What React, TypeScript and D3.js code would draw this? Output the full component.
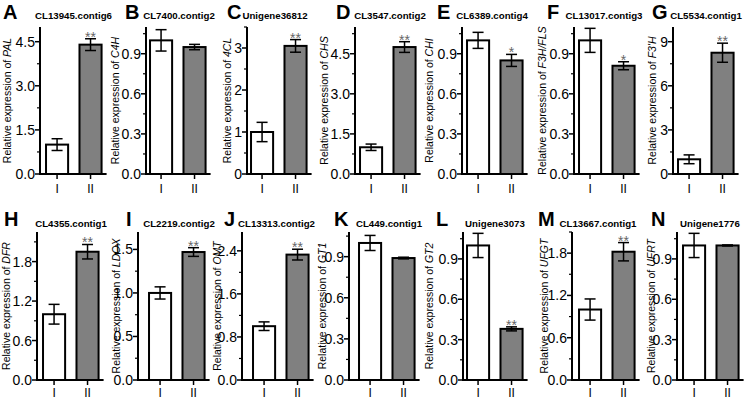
import React from "react";
import * as d3 from "d3";

// ---------- data ----------
const letters = ["A", "B", "C", "D", "E", "F", "G", "H", "I", "J", "K", "L", "M", "N"];
const titles = [
  "CL13945.contig6", "CL7400.contig2", "Unigene36812", "CL3547.contig2", "CL6389.contig4",
  "CL13017.contig3", "CL5534.contig1", "CL4355.contig1", "CL2219.contig2", "CL13313.contig2",
  "CL449.contig1", "Unigene3073", "CL13667.contig1", "Unigene1776",
];
const genes = ["PAL", "C4H", "4CL", "CHS", "CHI", "F3H/FLS", "F3'H", "DFR", "LDOX", "OMT", "GT1", "GT2", "UFGT", "UFRT"];
const groups = ["I", "II"];
const meanI = [1.0, 1.0, 1.0, 1.0, 1.0, 1.0, 1.0, 1.0, 1.0, 1.0, 1.0, 1.0, 1.0, 1.0];
const meanII = [4.4, 0.95, 3.05, 4.75, 0.85, 0.81, 8.25, 1.95, 1.47, 2.33, 0.89, 0.38, 1.82, 1.0];
const errI = [0.2, 0.08, 0.23, 0.12, 0.06, 0.09, 0.3, 0.15, 0.07, 0.08, 0.055, 0.09, 0.15, 0.09];
const errII = [0.2, 0.02, 0.15, 0.2, 0.045, 0.03, 0.65, 0.11, 0.05, 0.1, 0.006, 0.015, 0.13, 0.004];
const sigII = ["**", "", "**", "**", "*", "*", "**", "**", "**", "**", "", "**", "**", ""];
const yMax = [5, 1.1, 3.5, 5.5, 1.1, 1.1, 10, 2.25, 1.7, 2.75, 1.08, 1.1, 2.1, 1.1];
const tickStep = [1.5, 0.3, 1, 1.5, 0.3, 0.3, 3, 0.6, 0.5, 0.8, 0.3, 0.3, 0.6, 0.3];
const tickDecimals = [1, 1, 0, 1, 1, 1, 0, 1, 1, 1, 1, 1, 1, 1];

// ---------- layout ----------
const axisX = [40, 146, 247, 355, 462, 574, 673, 37, 138, 242, 349, 463, 572, 677];
const barStart = [46, 150, 251, 360, 467, 579, 678, 43, 149, 253, 359, 467, 579, 683];
const labelX = [7, 115, 227, 324, 429, 542, 652, 6, 116, 217, 322, 429, 544, 651];
const letterX = [3, 125, 227, 336, 437, 547, 652, 4, 126, 224, 334, 436, 538, 651];
const titleX = [73.5, 179, 275, 390, 492, 604, 706, 71, 179, 276.5, 389, 495, 598, 710];
const rowBase = [174, 380];
const rowTop = [27, 232];
const rowTitleY = [19, 227];
const rowLetterY = [19, 226];
const rowXLabelDy = [19, 17];

const FONT = "Arial, 'Liberation Sans', Helvetica, sans-serif";

function Panel({ i }: { i: number }) {
  const row = i < 7 ? 0 : 1;
  const base = rowBase[row];
  const top = rowTop[row];
  const ax = axisX[i];
  const x = d3
    .scaleBand<string>()
    .domain(groups)
    .range([barStart[i] - 5, barStart[i] - 5 + 65.6])
    .paddingInner(0.34)
    .paddingOuter(0.15);
  const y = d3.scaleLinear().domain([0, yMax[i]]).range([base, top]);
  const majors = d3.range(0, yMax[i] + 1e-9, tickStep[i]);
  const minors = d3.range(tickStep[i] / 2, yMax[i] + 1e-9, tickStep[i]);
  const right = x.range()[1];
  const means = [meanI[i], meanII[i]];
  const errs = [errI[i], errII[i]];
  const fills = ["#ffffff", "#808080"];
  const fmt = d3.format(`.${tickDecimals[i]}f`);
  const labelCY = (base + top) / 2;
  return (
    <g>
      <text x={letterX[i]} y={rowLetterY[row]} fontFamily={FONT} fontWeight="bold" fontSize={20}>
        {letters[i]}
      </text>
      <text x={titleX[i]} y={rowTitleY[row]} textAnchor="middle" fontFamily={FONT} fontWeight="bold" fontSize={9.7}>
        {titles[i]}
      </text>
      <text
        transform={`translate(${labelX[i] + 3.5},${labelCY}) rotate(-90)`}
        textAnchor="middle"
        fontFamily={FONT}
        fontSize={10.5}
      >
        Relative expression of <tspan fontStyle="italic">{genes[i]}</tspan>
      </text>
      {/* bars */}
      {groups.map((g, k) => (
        <rect
          key={g}
          x={x(g)!}
          y={y(means[k])}
          width={x.bandwidth()}
          height={base - y(means[k])}
          fill={fills[k]}
          stroke="#000"
          strokeWidth={2}
        />
      ))}
      {/* error bars */}
      {groups.map((g, k) => {
        const cx = x(g)! + x.bandwidth() / 2;
        const y1 = y(means[k] + errs[k]);
        const y0 = y(means[k] - errs[k]);
        return (
          <g key={"e" + g} stroke="#000" strokeWidth={1.5}>
            <line x1={cx} x2={cx} y1={y1} y2={y0} />
            <line x1={cx - 5.5} x2={cx + 5.5} y1={y1} y2={y1} />
            <line x1={cx - 5.5} x2={cx + 5.5} y1={y0} y2={y0} />
          </g>
        );
      })}
      {sigII[i] !== "" && (
        <text
          x={x("II")! + x.bandwidth() / 2}
          y={y(meanII[i] + errII[i]) + 3}
          textAnchor="middle"
          fontFamily={FONT}
          fontSize={14}
          fill="#666"
        >
          {sigII[i]}
        </text>
      )}
      {/* y axis */}
      <line x1={ax} x2={ax} y1={base + 1} y2={top} stroke="#000" strokeWidth={2} />
      {majors.map((v, k) => (
        <g key={"M" + k}>
          <line x1={ax - 5} x2={ax} y1={y(v)} y2={y(v)} stroke="#000" strokeWidth={1.5} />
          <text x={ax - 5} y={y(v) + 5} textAnchor="end" fontFamily={FONT} fontSize={14} fill="#000">
            {fmt(v)}
          </text>
        </g>
      ))}
      {minors.map((v, k) => (
        <line key={"m" + k} x1={ax - 3} x2={ax} y1={y(v)} y2={y(v)} stroke="#000" strokeWidth={1.2} />
      ))}
      {/* x axis */}
      <line x1={ax - 1} x2={right} y1={base} y2={base} stroke="#000" strokeWidth={2} />
      {groups.map((g) => {
        const cx = x(g)! + x.bandwidth() / 2;
        return (
          <g key={"x" + g}>
            <line x1={cx} x2={cx} y1={base} y2={base + 5} stroke="#000" strokeWidth={1.5} />
            <text x={cx} y={base + rowXLabelDy[row]} textAnchor="middle" fontFamily={FONT} fontSize={12}>
              {g}
            </text>
          </g>
        );
      })}
    </g>
  );
}

export default function App() {
  return (
    <svg width={747} height={400} style={{ position: "absolute", left: 0, top: 0, background: "#fff" }}>
      <rect width={747} height={400} fill="#fff" />
      {letters.map((_, i) => (
        <Panel key={i} i={i} />
      ))}
    </svg>
  );
}
